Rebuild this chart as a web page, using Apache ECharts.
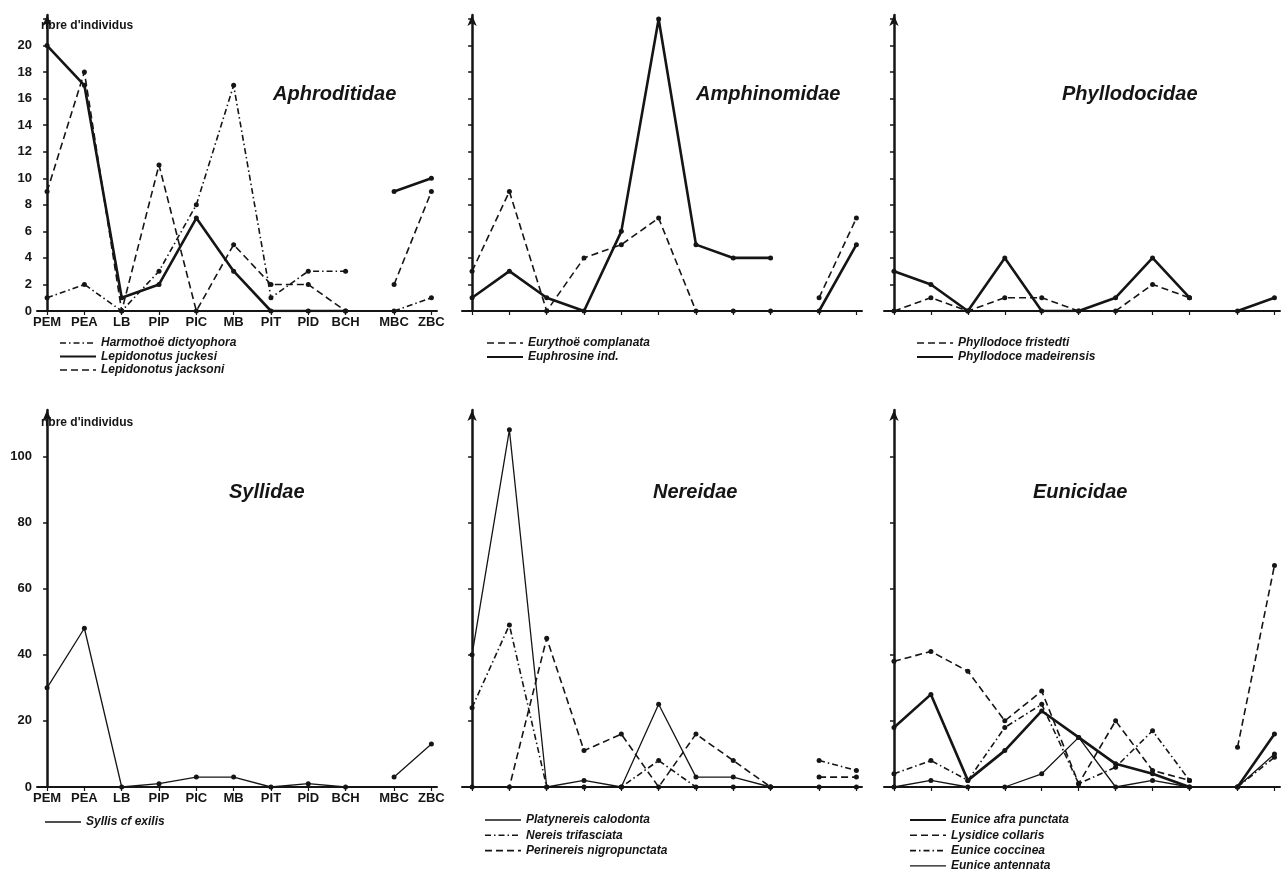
<!DOCTYPE html>
<html>
<head>
<meta charset="utf-8">
<script src="https://cdn.jsdelivr.net/npm/echarts@6.0.0/dist/echarts.min.js"></script>
<style>
html, body { margin: 0; padding: 0; background: #fff; }
#chart { width: 1283px; height: 876px; }
</style>
</head>
<body>
<div id="chart"></div>
<script>
// stations along the x axis (gap between BCH and MBC as in the figure)
const stations = ["PEM", "PEA", "LB", "PIP", "PIC", "MB", "PIT", "PID", "BCH", "MBC", "ZBC"];
const stationPos = [0, 1, 2, 3, 4, 5, 6, 7, 8, 9.3, 10.3];

// y ticks / labels
const topTicks = [0, 2, 4, 6, 8, 10, 12, 14, 16, 18, 20, 22];
const topLabels = [0, 2, 4, 6, 8, 10, 12, 14, 16, 18, 20];
const bottomTicks = [0, 20, 40, 60, 80, 100];
const bottomLabels = [0, 20, 40, 60, 80, 100];

// Aphroditidae
const harmothoe = [1, 2, 0, 3, 8, 17, 1, 3, 3, 0, 1];
const juckesi = [20, 17, 1, 2, 7, 3, 0, 0, 0, 9, 10];
const jacksoni = [9, 18, 0, 11, 0, 5, 2, 2, 0, 2, 9];

// Amphinomidae
const eurythoe = [3, 9, 0, 4, 5, 7, 0, 0, 0, 1, 7];
const euphrosine = [1, 3, 1, 0, 6, 22, 5, 4, 4, 0, 5];

// Phyllodocidae
const fristedti = [0, 1, 0, 1, 1, 0, 0, 2, 1, null, null];
const madeirensis = [3, 2, 0, 4, 0, 0, 1, 4, 1, 0, 1];

// Syllidae
const syllis = [30, 48, 0, 1, 3, 3, 0, 1, 0, 3, 13];

// Nereidae
const platynereis = [40, 108, 0, 2, 0, 25, 3, 3, 0, 0, 0];
const nereis = [24, 49, 0, 0, 0, 8, 0, 0, 0, 8, 5];
const perinereis = [0, 0, 45, 11, 16, 0, 16, 8, 0, 3, 3];

// Eunicidae
const afra = [18, 28, 2, 11, 23, 15, 7, 4, 0, 0, 16];
const lysidice = [38, 41, 35, 20, 29, 1, 20, 5, 2, 12, 67];
const coccinea = [4, 8, 2, 18, 25, 1, 6, 17, 2, 0, 9];
const antennata = [0, 2, 0, 0, 4, 15, 0, 2, 0, 0, 10];

const ink = "#151515";
const font = "Liberation Sans";

const lineStyles = {
  solidThick: { width: 2.6, dash: null },
  solidThin: { width: 1.3, dash: null },
  dashed: { width: 1.6, dash: [7, 4] },
  dashDot: { width: 1.6, dash: [6, 3, 1.5, 3] },
};

// layout of the six panels
const colLeft = [37, 462, 884];
const colWidth = [400, 400, 396];
const rowTop = [15, 410];
const rowHeight = [296, 377];
const rowMax = [22.3, 114];

const panels = [
  {
    title: "Aphroditidae", col: 0, row: 0, titlePos: [268, 79], legend: [60, 343, 13.5],
    series: [
      { name: "Harmothoë dictyophora", data: harmothoe, style: "dashDot" },
      { name: "Lepidonotus juckesi", data: juckesi, style: "solidThick" },
      { name: "Lepidonotus jacksoni", data: jacksoni, style: "dashed" },
    ],
  },
  {
    title: "Amphinomidae", col: 1, row: 0, titlePos: [691, 79], legend: [487, 343, 14],
    series: [
      { name: "Eurythoë complanata", data: eurythoe, style: "dashed" },
      { name: "Euphrosine ind.", data: euphrosine, style: "solidThick" },
    ],
  },
  {
    title: "Phyllodocidae", col: 2, row: 0, titlePos: [1057, 79], legend: [917, 343, 14],
    series: [
      { name: "Phyllodoce fristedti", data: fristedti, style: "dashed" },
      { name: "Phyllodoce madeirensis", data: madeirensis, style: "solidThick" },
    ],
  },
  {
    title: "Syllidae", col: 0, row: 1, titlePos: [224, 477], legend: [45, 822, 15],
    series: [{ name: "Syllis cf exilis", data: syllis, style: "solidThin" }],
  },
  {
    title: "Nereidae", col: 1, row: 1, titlePos: [648, 477], legend: [485, 820, 15.3],
    series: [
      { name: "Platynereis calodonta", data: platynereis, style: "solidThin" },
      { name: "Nereis trifasciata", data: nereis, style: "dashDot" },
      { name: "Perinereis nigropunctata", data: perinereis, style: "dashed" },
    ],
  },
  {
    title: "Eunicidae", col: 2, row: 1, titlePos: [1028, 477], legend: [910, 820, 15.3],
    series: [
      { name: "Eunice afra punctata", data: afra, style: "solidThick" },
      { name: "Lysidice collaris", data: lysidice, style: "dashed" },
      { name: "Eunice coccinea", data: coccinea, style: "dashDot" },
      { name: "Eunice antennata", data: antennata, style: "solidThin" },
    ],
  },
];

function toPoints(values) {
  const pts = values.map((v, i) => [stationPos[i], v == null ? "-" : v]);
  // break the line between BCH and MBC
  pts.splice(9, 0, [(stationPos[8] + stationPos[9]) / 2, "-"]);
  return pts;
}

function stationName(v) {
  const i = stationPos.findIndex((p) => Math.abs(p - v) < 1e-6);
  return i >= 0 ? stations[i] : "";
}

const grid = [];
const xAxis = [];
const yAxis = [];
const series = [];
const title = [];
const graphics = [];

panels.forEach((p, idx) => {
  grid.push({
    left: colLeft[p.col],
    top: rowTop[p.row],
    width: colWidth[p.col],
    height: rowHeight[p.row],
    outerBoundsMode: "none",
    containLabel: false,
  });
  xAxis.push({
    type: "value",
    gridIndex: idx,
    min: -0.27,
    max: 10.45,
    axisLine: { show: true, onZero: false, lineStyle: { color: ink, width: 2 } },
    axisTick: { show: true, customValues: stationPos, length: 4, lineStyle: { color: ink, width: 1.2 } },
    axisLabel: {
      show: p.col === 0,
      customValues: stationPos,
      formatter: stationName,
      fontWeight: "bold",
      fontSize: 13,
      fontFamily: font,
      color: ink,
      margin: 5,
    },
    splitLine: { show: false },
  });
  yAxis.push({
    type: "value",
    gridIndex: idx,
    min: 0,
    max: rowMax[p.row],
    axisLine: {
      show: true,
      symbol: ["none", "arrow"],
      symbolSize: [7, 11],
      lineStyle: { color: ink, width: 2.5 },
    },
    axisTick: {
      show: true,
      customValues: p.row === 0 ? topTicks : bottomTicks,
      length: 4,
      lineStyle: { color: ink, width: 1.5 },
    },
    axisLabel: {
      show: p.col === 0,
      customValues: p.row === 0 ? topLabels : bottomLabels,
      fontWeight: "bold",
      fontSize: 13,
      fontFamily: font,
      color: ink,
      margin: 5,
    },
    splitLine: { show: false },
  });
  title.push({
    text: p.title,
    left: p.titlePos[0],
    top: p.titlePos[1],
    textStyle: { fontStyle: "italic", fontWeight: "bold", fontSize: 20, fontFamily: font, color: ink },
  });

  p.series.forEach((s, k) => {
    const ls = lineStyles[s.style];
    series.push({
      name: s.name,
      type: "line",
      xAxisIndex: idx,
      yAxisIndex: idx,
      data: toPoints(s.data),
      symbol: "circle",
      symbolSize: 5,
      showSymbol: true,
      connectNulls: false,
      animation: false,
      itemStyle: { color: ink },
      lineStyle: { color: ink, width: ls.width, type: ls.dash || "solid" },
    });

    // legend entry drawn by hand (line sample + italic name)
    const lx = p.legend[0];
    const ly = p.legend[1] + k * p.legend[2];
    graphics.push({
      type: "line",
      shape: { x1: lx, y1: ly, x2: lx + 36, y2: ly },
      style: { stroke: ink, lineWidth: Math.min(ls.width, 2.2), lineDash: ls.dash || null },
    });
    graphics.push({
      type: "text",
      x: lx + 41,
      y: ly,
      style: {
        text: s.name,
        fill: ink,
        font: "italic bold 12px '" + font + "'",
        verticalAlign: "middle",
      },
    });
  });
});

// y axis caption of the left panels
[[41, 26], [41, 423]].forEach((pos) => {
  graphics.push({
    type: "text",
    x: pos[0],
    y: pos[1],
    style: {
      text: "nbre d'individus",
      fill: ink,
      font: "bold 12px '" + font + "'",
      verticalAlign: "middle",
    },
  });
});

const chart = echarts.init(document.getElementById("chart"));
chart.setOption({
  backgroundColor: "#fff",
  animation: false,
  title: title,
  grid: grid,
  xAxis: xAxis,
  yAxis: yAxis,
  series: series,
  graphic: { elements: graphics },
});
</script>
</body>
</html>
